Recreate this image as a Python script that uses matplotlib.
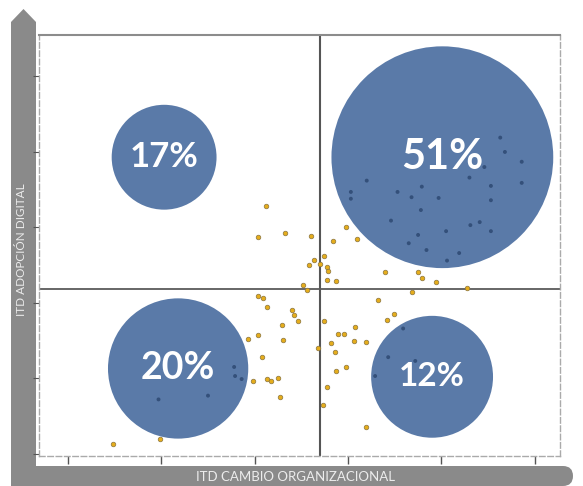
import matplotlib
matplotlib.use("Agg")
import matplotlib.pyplot as plt
from matplotlib.patches import Polygon, FancyBboxPatch

# ------------- data
# bubbles: quadrant share
bub_x = [2.03, 5.01, 2.18, 4.90]
bub_y = [3.93, 3.93, 1.13, 1.02]
bub_lab = ["17%", "51%", "20%", "12%"]
bub_s = [5700, 25500, 10200, 7700]
bub_fs = [25, 30, 27, 24]

# companies outside the bubbles
pts_x = [3.12, 3.04, 3.32, 3.60, 3.84, 3.98, 4.10, 3.74, 3.63, 3.58, 3.70, 3.77,
         3.78, 3.77, 3.87, 4.40, 4.75, 4.79, 4.94, 3.52, 3.56, 4.32, 4.68, 5.27,
         3.04, 3.09, 3.13, 3.40, 3.42, 3.46, 3.29, 3.74, 4.07, 4.42, 4.49, 3.04,
         2.93, 3.30, 3.89, 3.96, 3.82, 4.06, 4.19, 3.08, 3.68, 3.86, 3.98, 3.87,
         2.98, 3.13, 3.17, 3.25, 3.27, 3.77, 3.73, 4.19, 1.48, 1.99]
pts_y = [3.28, 2.87, 2.93, 2.89, 2.82, 3.01, 2.85, 2.62, 2.57, 2.50, 2.52, 2.48,
         2.42, 2.30, 2.29, 2.41, 2.41, 2.33, 2.28, 2.24, 2.17, 2.04, 2.15, 2.20,
         2.09, 2.07, 1.95, 1.91, 1.84, 1.76, 1.70, 1.76, 1.68, 1.77, 1.85, 1.58,
         1.52, 1.51, 1.59, 1.59, 1.47, 1.50, 1.48, 1.28, 1.40, 1.35, 1.15, 1.09,
         0.97, 0.99, 0.97, 1.01, 0.75, 0.89, 0.65, 0.36, 0.13, 0.20]

# companies seen through the bubbles
in_x = [5.63, 5.68, 5.86, 5.46, 5.30, 5.86, 4.20, 4.03, 4.03, 4.53, 4.68, 4.79,
        4.97, 5.53, 5.53, 4.78, 4.46, 5.31, 5.41, 5.05, 5.53, 4.75, 4.65, 4.84,
        5.19, 5.06, 4.59, 4.43, 4.72, 4.29, 2.78, 2.79, 2.86, 2.50, 1.97]
in_y = [4.19, 4.00, 3.87, 3.80, 3.66, 3.59, 3.62, 3.47, 3.38, 3.47, 3.40, 3.54,
        3.39, 3.55, 3.36, 3.23, 3.09, 3.03, 3.07, 2.95, 2.95, 2.90, 2.79, 2.70,
        2.66, 2.56, 1.66, 1.28, 1.23, 1.03, 1.15, 1.03, 0.99, 0.77, 0.72]

x_mid = 3.70
y_mid = 2.19

# ------------- figure
fig = plt.figure(figsize=(5.83, 4.86), dpi=100, facecolor="white")

# gray L-shaped arrow frame, drawn in pixel units
bg = fig.add_axes([0, 0, 1, 1], zorder=0)
bg.set_xlim(0, 583)
bg.set_ylim(486, 0)
bg.axis("off")
grey = "#8a8a8a"
bg.add_patch(Polygon([[11, 486], [11, 22], [23.5, 9], [36, 22], [36, 486]],
                     closed=True, fc=grey, ec="none"))
bg.add_patch(FancyBboxPatch((11, 466), 562, 20, boxstyle="round,pad=0,rounding_size=10",
                            fc=grey, ec="none"))
bg.add_patch(Polygon([[11, 466], [30, 466], [30, 486], [11, 486]], closed=True, fc=grey, ec="none"))
bg.text(295, 477, "ITD CAMBIO ORGANIZACIONAL", color="#ececec", fontsize=9.5,
        family="Lato", ha="center", va="center")
bg.text(22, 250, "ITD ADOPCIÓN DIGITAL", color="#ececec", fontsize=8.5,
        family="Lato", ha="center", va="center", rotation=90)

ax = fig.add_axes([39/583, 1-456/486, 521/583, 421/486], zorder=1)
ax.set_xlim(0.69, 6.27)
ax.set_ylim(-0.03, 5.55)

ax.scatter(pts_x, pts_y, s=11, c="#e5ad1c", edgecolors="#8a7440", linewidths=0.5, zorder=2)
ax.scatter(bub_x, bub_y, s=bub_s, c="#5a7aa8", edgecolors="none", zorder=3)
ax.scatter(in_x, in_y, s=8, c="#34507a", edgecolors="none", zorder=4)
for x, y, lab, fs in zip(bub_x, bub_y, bub_lab, bub_fs):
    ax.text(x, y, lab, color="white", fontsize=fs, fontweight="bold", family="Lato",
            ha="center", va="center", zorder=5)

ax.axvline(x_mid, color="#555555", lw=1.5, zorder=1)
ax.axhline(y_mid, color="#5a5a5a", lw=1.3, zorder=1)

ax.set_xticks([1, 2, 3, 4, 5, 6])
ax.set_yticks([0, 1, 2, 3, 4, 5])
ax.tick_params(axis="both", direction="out", colors="#555555", labelbottom=False,
               labelleft=False)
ax.tick_params(axis="x", length=6, width=1)
ax.tick_params(axis="y", length=4, width=0.8)
ax.spines["top"].set_color("#8c8c8c")
ax.spines["top"].set_linewidth(1.5)
for side in ["left", "right", "bottom"]:
    ax.spines[side].set_color("#aaaaaa")
    ax.spines[side].set_linestyle((0, (4, 2)))
    ax.spines[side].set_linewidth(1)

fig.savefig("out.png", dpi=100, facecolor="white")
